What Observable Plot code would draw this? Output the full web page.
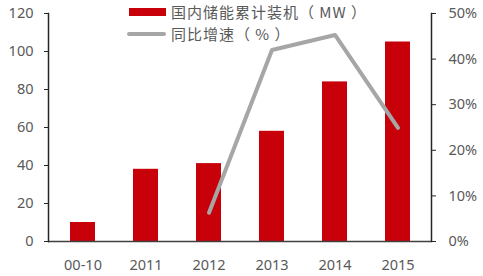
<!DOCTYPE html>
<html><head><meta charset="utf-8">
<script src="https://cdn.jsdelivr.net/npm/d3@7"></script>
<script src="https://cdn.jsdelivr.net/npm/@observablehq/plot@0.6"></script>
<style>
body{margin:0;background:#fff;}
#wrap{position:relative;width:483px;height:276px;font-family:"Noto Sans","Noto Sans CJK SC",sans-serif;}
.lg{position:absolute;left:171px;font-size:15px;letter-spacing:1px;color:#595959;font-family:"Noto Sans CJK SC",sans-serif;white-space:nowrap;line-height:1;}
.sw{position:absolute;}
</style></head>
<body><div id="wrap"></div>
<script>
const categories = ["00-10","2011","2012","2013","2014","2015"];
const capacity = [10, 38, 41, 58, 84, 105];
const growthYears = ["2012","2013","2014","2015"];
const growth = [0.063, 0.42, 0.453, 0.249];
const leftTicks = [0,20,40,60,80,100,120];
const rightTicks = [0,0.1,0.2,0.3,0.4,0.5];
const barLabel = "国内储能累计装机（ MW ）";
const lineLabel = "同比增速（ % ）";

const k = 120/0.5;
const bars = categories.map((c,i)=>({cat:c, v:capacity[i]}));
const pts = growthYears.map((c,i)=>({cat:c, v:growth[i]*k}));
const txt = "#595959";
const chart = Plot.plot({
  width:483, height:276,
  marginLeft:48, marginRight:52, marginTop:13, marginBottom:35,
  style:{fontSize:"14.5px", color:txt, fontFamily:"'Noto Sans',sans-serif", background:"#fff"},
  x:{domain:categories, paddingInner:0.61, paddingOuter:0.305, label:null},
  y:{domain:[0,120], label:null},
  marks:[
    Plot.barY(bars,{x:"cat",y:"v",fill:"#C8000A"}),
    Plot.line(pts,{x:"cat",y:"v",stroke:"#A6A6A6",strokeWidth:4}),
    Plot.ruleY([0],{stroke:"#404040",strokeWidth:1.5}),
    Plot.axisX({tickSize:0,tickPadding:18,fill:txt,label:null}),
    Plot.axisY({anchor:"left",ticks:leftTicks,tickSize:4,tickPadding:11,stroke:"#262626",fill:txt,label:null}),
    Plot.frame({anchor:"left",stroke:"#262626",strokeWidth:1.5}),
    Plot.axisY({anchor:"right",ticks:rightTicks.map(d=>d*k),tickFormat:d=>Math.round(d/k*100)+"%",tickSize:4,tickPadding:13,stroke:"#262626",fill:txt,label:null}),
    Plot.frame({anchor:"right",stroke:"#262626",strokeWidth:1.5})
  ]
});
const wrap = document.getElementById("wrap");
wrap.appendChild(chart);
chart.style.position="absolute";chart.style.left="0";chart.style.top="0";
function add(html){const d=document.createElement("div");d.innerHTML=html;wrap.appendChild(d.firstChild);}
add(`<div class="sw" style="left:129px;top:8px;width:37px;height:8px;background:#C8000A"></div>`);
add(`<div class="lg" style="top:4px">${barLabel}</div>`);
add(`<div class="sw" style="left:127px;top:32px;width:39px;height:4px;background:#A6A6A6;border-radius:2px"></div>`);
add(`<div class="lg" style="top:26px">${lineLabel}</div>`);
</script></body></html>
